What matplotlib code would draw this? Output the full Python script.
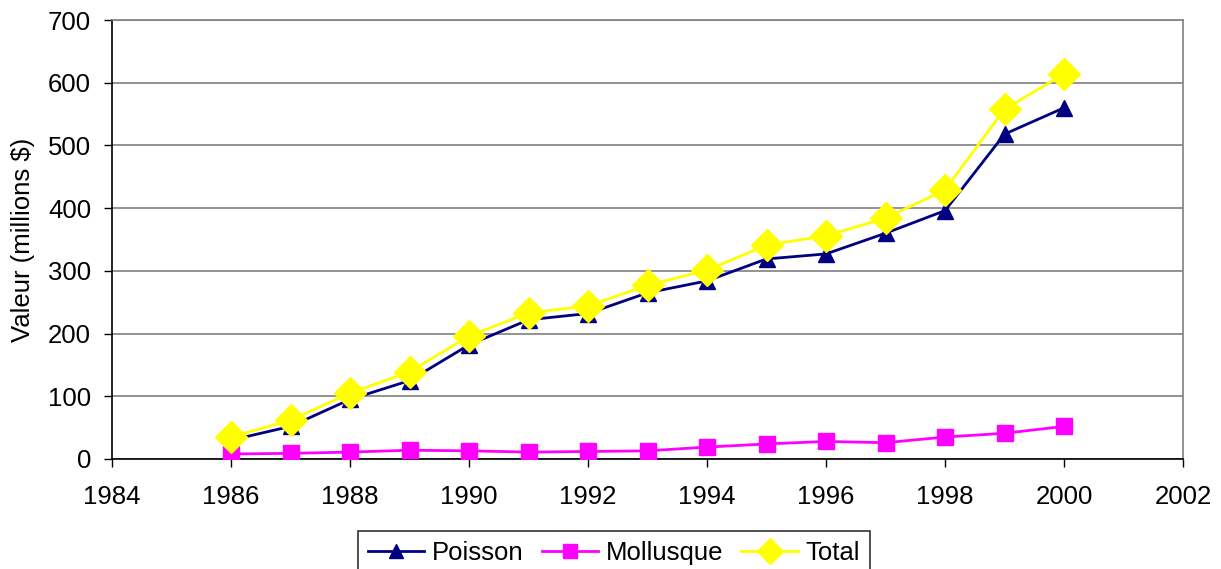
import matplotlib
matplotlib.use("Agg")
import matplotlib.pyplot as plt
from matplotlib.lines import Line2D

years = [1986, 1987, 1988, 1989, 1990, 1991, 1992, 1993, 1994, 1995, 1996, 1997, 1998, 1999, 2000]
poisson = [30, 52, 95, 125, 182, 222, 232, 265, 284, 319, 327, 360, 396, 518, 560]
mollusque = [8, 9, 11, 14, 13, 11, 12, 13, 19, 24, 28, 26, 35, 41, 52]
total = [35, 62, 105, 139, 196, 233, 244, 277, 301, 341, 356, 384, 429, 558, 614]

xticks = [1984, 1986, 1988, 1990, 1992, 1994, 1996, 1998, 2000, 2002]
yticks = [0, 100, 200, 300, 400, 500, 600, 700]

plt.rcParams['font.family'] = ['Liberation Sans', 'DejaVu Sans']
FS = 18.5

fig = plt.figure(figsize=(12.21, 5.69), dpi=100)
ax = fig.add_axes([112/1221, 1-459/569, (1183-112)/1221, (459-20)/569])

ax.plot(years, poisson, color='#000080', lw=2, marker='^', ms=12, mfc='#000080', mec='#000080', zorder=3)
ax.plot(years, mollusque, color='#FF00FF', lw=2, marker='s', ms=11, mfc='#FF00FF', mec='#FF00FF', zorder=3)
ax.plot(years, total, color='#FFFF00', lw=2, marker='D', ms=16, mfc='#FFFF00', mec='#FFFF00', zorder=4)

ax.set_xlim(1984, 2002)
ax.set_ylim(0, 700)
ax.set_xticks(xticks)
ax.set_yticks(yticks)
ax.tick_params(labelsize=FS, direction='out', length=6, width=1, colors='black')
ax.tick_params(axis='x', pad=13)
ax.tick_params(axis='y', pad=9)
ax.set_ylabel('Valeur (millions $)', fontsize=FS)
ax.yaxis.set_label_coords(-77/1071, 0.5)
ax.yaxis.grid(True, color='#808080', lw=1.2)
ax.set_axisbelow(True)
for s in ['top', 'right']:
    ax.spines[s].set_color('#808080')
    ax.spines[s].set_linewidth(1.2)
for s in ['left', 'bottom']:
    ax.spines[s].set_color('black')
    ax.spines[s].set_linewidth(1.2)

handles = [
    Line2D([], [], color='#000080', lw=2, marker='^', ms=10, mfc='#000080', mec='#000080'),
    Line2D([], [], color='#FF00FF', lw=2, marker='s', ms=10, mfc='#FF00FF', mec='#FF00FF'),
    Line2D([], [], color='#FFFF00', lw=2, marker='D', ms=13, mfc='#FFFF00', mec='#FFFF00'),
]
leg = fig.legend(handles, ['Poisson', 'Mollusque', 'Total'], loc='upper center',
                 bbox_to_anchor=(614/1221, 1-531/569), ncol=3, fontsize=FS,
                 frameon=True, fancybox=False, edgecolor='black', handlelength=2.2,
                 handletextpad=0.3, columnspacing=0.7, borderpad=0.4, borderaxespad=0)
leg.get_frame().set_linewidth(1.2)

fig.savefig('out.png', dpi=100)
